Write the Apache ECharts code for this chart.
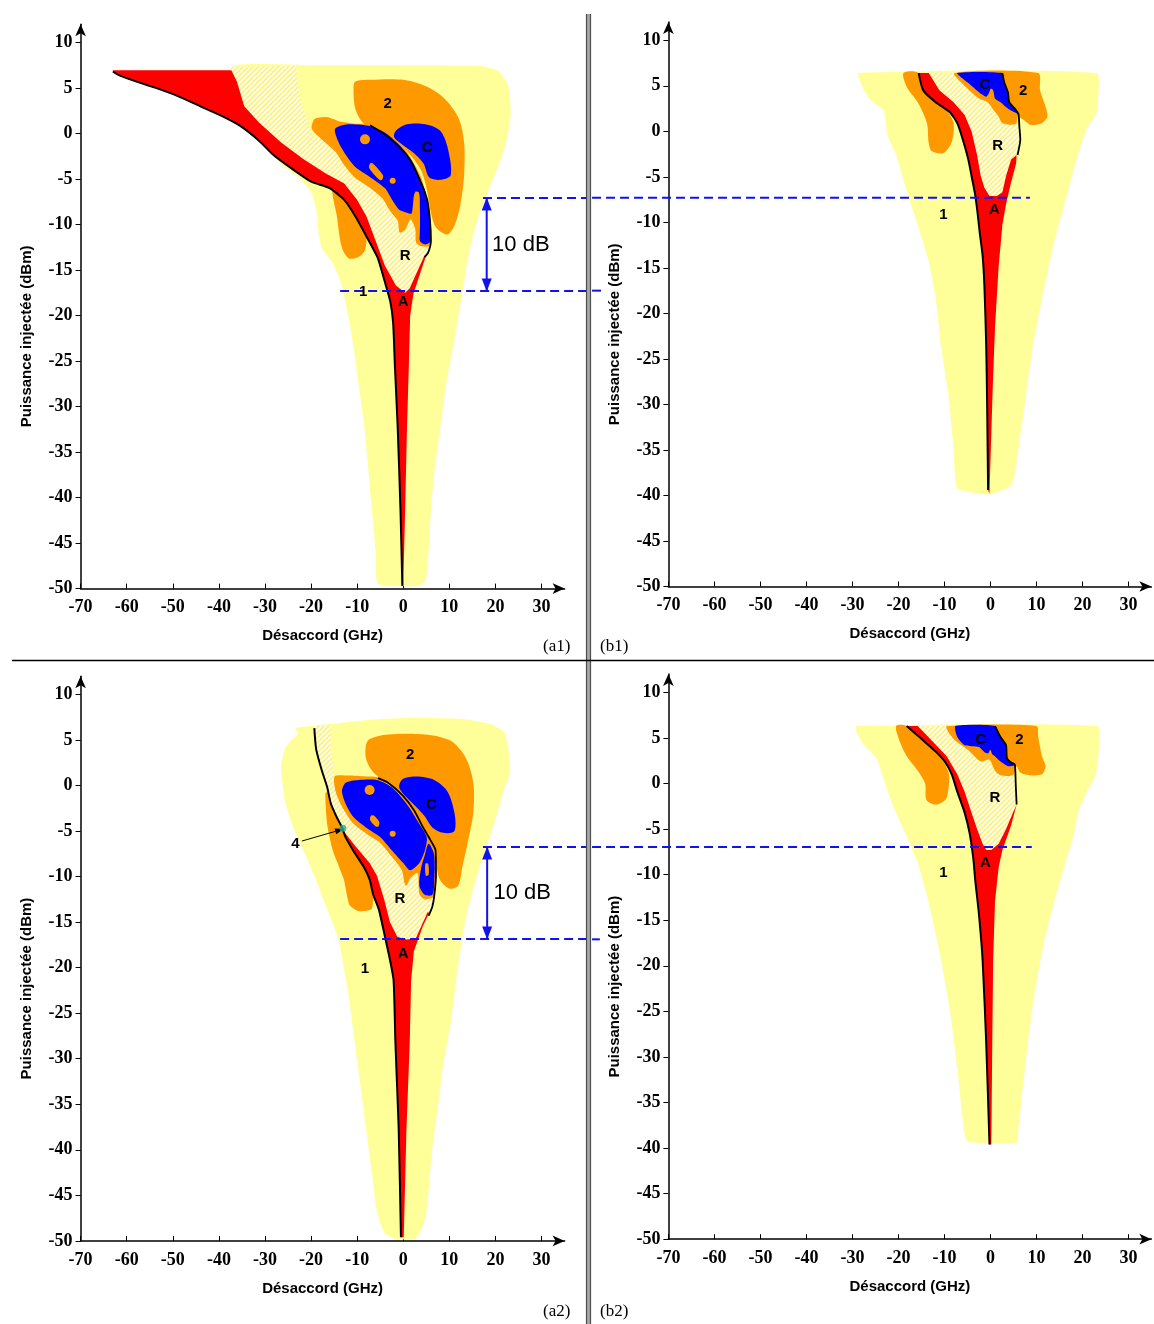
<!DOCTYPE html>
<html><head><meta charset="utf-8">
<script src="https://cdn.jsdelivr.net/npm/echarts@6/dist/echarts.min.js"></script>
<style>html,body{margin:0;padding:0;background:#fff}#c{width:1154px;height:1324px}</style>
</head><body><div id="c"></div>
<script>
// ---------- axes ----------
const xTicks = [-70,-60,-50,-40,-30,-20,-10,0,10,20,30];
const yTicks = [-50,-45,-40,-35,-30,-25,-20,-15,-10,-5,0,5,10];

// ---------- panel a1 ----------
const a1Zone1 = [[-37,7.4],[-20,7.5],[0,7.5],[16.8,7.4],[20.8,6.8],[22.9,5],[23.3,2.1],[22.5,-0.6],[20.8,-3.3],[18.4,-6.4],[16,-9.6],[14.4,-12.7],[13.2,-16.3],[12,-19.9],[10.8,-23.5],[9.2,-27.9],[8,-32.4],[6.8,-36.9],[6,-41.4],[5.5,-45.9],[4.8,-49.2],[3.2,-49.7],[-2.4,-49.7],[-5.6,-49.4],[-6,-45.9],[-6.8,-41.4],[-7.6,-36.9],[-8.4,-32.4],[-9.6,-27.9],[-10.8,-23.5],[-12,-19.9],[-13.6,-16.3],[-15.6,-14],[-17.6,-12.7],[-18.4,-10.9],[-18.8,-8.7],[-20,-6.4],[-23.3,-4.6],[-26.5,-3.4],[-27.6,-2.5],[-30,-1],[-34,1.5],[-36.5,4.5]];
const a1Hatch = [[-37.3,7.3],[-23.3,7.4],[-22.5,4.3],[-20.8,1.2],[-19.6,-0.3],[-15,-0.5],[-8,0],[-1,-1.5],[3,-4.5],[5.6,-8.7],[6.1,-11.8],[5.4,-13.1],[4.4,-14.5],[2,-17.4],[0.4,-17.8],[-2.8,-18.5],[-4,-16.3],[-5.6,-13.6],[-8,-11.3],[-10.4,-9.1],[-12.8,-7.3],[-16,-6],[-20,-5.3],[-24.1,-3.9],[-28.1,-2.4],[-31.3,-0.8],[-35.3,0.8],[-37.5,2]];
const a1Zone2 = [[-10.4,5.7],[-7.2,5.9],[0,5.9],[4.8,5.2],[8.8,3.9],[12,1.7],[13.2,-1],[13.2,-4.6],[12.4,-7.8],[11.2,-10],[9.6,-11.1],[7.2,-10.4],[6,-8.7],[5.2,-6.4],[4,-4.2],[1.6,-2.4],[-1.2,-1],[-5.6,0.3],[-8.8,1.2],[-10.4,2.7],[-10.8,4.8]];
const a1Zone2Left = [[-19.9,0.7],[-19.2,1.6],[-16.6,1.8],[-13.7,1.3],[-11,1.1],[-6,0.9],[0,-1.5],[4,-5],[5.8,-9],[6.1,-11.8],[5.5,-12.4],[4,-12.4],[2.8,-12],[2.6,-10.5],[1.6,-9.4],[1,-10],[0.2,-10.7],[-0.8,-10.9],[-1.2,-9.6],[-3,-8.4],[-4.6,-7.1],[-7.4,-5.9],[-10.6,-4.8],[-12.8,-3.5],[-14.6,-2.1],[-16.5,-1.2],[-19.5,0.2]];
const a1Zone2Lobe = [[-15.4,-5.8],[-14.4,-9.1],[-13.4,-12.4],[-11.9,-13.7],[-9.8,-13.6],[-8.3,-12.8],[-8,-11],[-9,-9.5],[-11,-7.5],[-13,-6]];
const a1ZoneC = [[-14.8,0.5],[-12,1],[-7.2,0.8],[-4,0.1],[-0.8,-1.3],[1.6,-2.8],[3.2,-4.6],[4.8,-6.4],[5.6,-8.7],[6,-11.8],[4.8,-12.2],[3.6,-11.8],[3.6,-8.7],[2.8,-7],[2.2,-7.5],[1.8,-8.8],[0.8,-8.7],[-0.8,-8.4],[-2.4,-7.3],[-4,-6],[-7.2,-4.8],[-10.4,-3.7],[-12.4,-2.4],[-14,-1]];
const a1ZoneC2 = [[-2,-0.4],[-1.6,0.3],[0.8,1],[4.8,1],[8,0.3],[9.6,-1.5],[10.3,-4.6],[8,-5.1],[5.6,-4.8],[4.4,-3.3],[2.4,-2.2],[-0.8,-1]];
const a1Finger = [[2.6,-6.4],[3.4,-6.5],[3.6,-8],[3.5,-11.4],[2.9,-11.5],[2.7,-9],[2.2,-7.4]];
const a1Streak = [[-7.2,-3.3],[-6.6,-3.3],[-4.4,-4.6],[-4.6,-5.1],[-5.2,-5.1],[-7.4,-3.8]];
const a1Spots = [[-8.3,-0.65,5],[-2.3,-5.2,3]];
const a1Curve1 = [[-63,6.8],[-61.7,6.4],[-58.5,5.8],[-53.7,5],[-48.9,4.1],[-44.1,3],[-39.3,1.9],[-35.3,0.8],[-31.3,-0.8],[-28.1,-2.4],[-24.1,-3.9],[-20,-5.3],[-16,-6],[-12.8,-7.3],[-10.4,-9.1],[-8,-11.3],[-5.6,-13.6],[-4,-16.3],[-2.8,-18.5],[-2.2,-20.8],[-1.8,-25.7],[-1.2,-32.4],[-0.6,-41.4],[-0.2,-49.7]];
const a1ZoneAEdge = [[0,-49.7],[0.4,-41.4],[0.8,-32.4],[1.2,-25.7],[1.5,-20],[2.2,-17.6],[4.9,-13.5],[4.6,-13.4],[1.4,-17],[0.4,-17.5],[-1.6,-16.7],[-4,-14.5],[-6,-11.8],[-8,-9.1],[-10,-7.3],[-12.8,-5.5],[-16.8,-4.4],[-21.7,-2.8],[-26.5,-1],[-31.3,1.2],[-34.5,3],[-36.1,5.7],[-37.3,6.95],[-63,6.95]];
const a1Curve2 = [[-7.2,0.9],[-4,-0.1],[-0.8,-1.5],[1.6,-3],[3.6,-5.1],[5.2,-7.3],[5.8,-9.6],[6,-11.8],[5.4,-13.1],[4.6,-13.6]];
const a1Labels = [['2',-3.4,3.2],['C',5.2,-1.6],['R',0.4,-13.5],['A',0,-18.5],['1',-8.7,-17.4]];
const a1DashHigh = [[17.3,-7.1],[40.5,-7.1]];
const a1DashLow = [[-13.7,-17.3],[40.5,-17.3]];
const a1Arrow = [[18.1,-7.1],[18.1,-17.3]];
const a1Note = [['10 dB',25.5,-12.3]];

// ---------- panel b1 ----------
const b1Zone1 = [[-28.7,6.4],[23.1,6.4],[23.3,2.7],[22.9,1.8],[21,0.3],[19,-2.6],[16.3,-7.6],[13.9,-12.1],[11.6,-17.4],[9.2,-23.7],[7.7,-29.1],[6.1,-34.9],[5.3,-37.6],[4.4,-39],[-0.2,-39.9],[-7.2,-39.2],[-8,-34.9],[-9.1,-29.1],[-10.7,-23.7],[-11.9,-18.3],[-13.4,-14.3],[-15.8,-10.3],[-18.1,-6.7],[-20.5,-2.6],[-22.4,-0.4],[-23.2,2.3],[-26,3.4],[-27.5,4.5]];
const b1Zone2Lobe = [[-18.9,6.4],[-15.6,6.4],[-14.6,4.5],[-11.9,3.2],[-9.2,2.1],[-8,0.9],[-8.2,-0.8],[-8.8,-1.6],[-10.3,-2.4],[-12.7,-2.2],[-13.4,-1.3],[-13.8,0.9],[-15.8,3.2],[-18.1,4.8]];
const b1Hatch = [[-15.6,6.4],[-7.2,6.4],[-4.8,5.2],[-2.5,4.1],[-0.9,3.6],[0.6,2.3],[2.2,1.2],[5.5,0.9],[6.1,1.9],[6.3,0.5],[6.5,-0.9],[5.9,-2.6],[4,-5],[2,-7.5],[0,-8],[-2.3,-11.2],[-2.9,-8.5],[-4.1,-4.9],[-6,-0.9],[-8.8,2.1],[-11.9,3.2],[-14.6,4.5]];
const b1Zone2 = [[-7.8,6.4],[10.4,6.4],[10.8,4.5],[12,2.7],[12.4,1.6],[11.2,0.9],[8.8,0.7],[7.4,1.2],[6.3,1.6],[6.1,1.9],[5.5,0.8],[2.6,0.9],[1.8,1.6],[0.6,2.4],[-0.6,3.2],[-2.5,3.6],[-5,4.7]];
const b1ZoneC = [[-7.2,6.4],[2.6,6.4],[3,5.4],[3.8,4.3],[4.1,3.2],[5.3,2.5],[6.1,1.9],[4.8,2.2],[3.8,2.5],[2.2,3.2],[1,3.6],[0.6,4.5],[0.1,4.7],[-0.3,4.2],[-0.9,3.8],[-2.5,4.3],[-4.8,5.3]];
const b1Curve1 = [[-15.6,6.4],[-14.6,4.5],[-11.9,3.2],[-8.8,2.1],[-7.2,0.9],[-6,-0.9],[-4.8,-3.1],[-4.1,-4.9],[-3.4,-6.7],[-2.9,-8.5],[-2.3,-11.2],[-1.7,-13.6],[-1.3,-17],[-0.9,-23.7],[-0.7,-30.4],[-0.5,-39.4]];
const b1ZoneAEdge = [[-0.2,-39.8],[0.5,-28.2],[1,-21.5],[1.8,-14.8],[2.6,-10.3],[3.4,-8],[4.4,-5.8],[5.6,-3.5],[5.7,-2.6],[4.5,-3.1],[3.4,-4.9],[2.6,-6.7],[1.4,-7.1],[-0.2,-7.1],[-1.3,-6.2],[-2.1,-4.9],[-2.9,-2.6],[-4.1,0],[-5.6,1.8],[-8,3.2],[-11.1,4.5],[-13.4,6.4]];
const b1Curve2 = [[2.6,6.4],[3,5.4],[3.8,4.3],[4.1,3.2],[5.3,2.5],[6.1,1.9],[6.3,0.5],[6.5,-0.9],[5.9,-2.6]];
const b1Labels = [['C',-1.2,5.1],['2',7.1,4.4],['R',1.6,-1.6],['A',0.9,-8.6],['1',-10.2,-9.2]];
const b1DashHigh = [[-86.6,-7.3],[8.6,-7.3]];
const b1DashLow = [[-86.6,-17.5],[-83.8,-17.5]];

// ---------- panel a2 ----------
const a2Zone1 = [[-23.3,6.3],[-16.9,6.7],[-7.3,7.2],[0.7,7.4],[12.8,7.3],[19.2,6.7],[22,5.8],[22.8,4],[23.2,1.4],[22,-0.2],[20.4,-3],[18.4,-6.2],[16,-9.9],[14,-13.6],[12.6,-17.3],[11.5,-21.4],[10.3,-26],[8.7,-30.6],[7.5,-35.3],[6.3,-39.9],[5.5,-44.5],[4.7,-47.7],[2.7,-49.7],[-1.7,-49.8],[-4.1,-49.1],[-5.7,-46.8],[-6.9,-42.2],[-8.1,-37.6],[-9.3,-32.9],[-10.5,-28.3],[-11.7,-23.7],[-12.9,-20],[-14.1,-16.8],[-16.9,-13.1],[-19.3,-9.9],[-21.7,-7.1],[-24.1,-4.3],[-25.7,-1.6],[-26.5,2.1],[-25.7,4],[-24.1,5.1],[-22.9,5.6]];
const a2Curve1 = [[-19.3,6.3],[-18.9,4],[-17.7,1.7],[-16.5,-0.2],[-15.7,-2],[-14.5,-3.4],[-13.3,-4.6],[-12.5,-5.7],[-10.9,-7.1],[-8.5,-9],[-7.3,-10.3],[-6.5,-12],[-5.3,-13.6],[-4.1,-16.3],[-2.9,-19.1],[-2.1,-21.4],[-1.7,-28.3],[-1,-37.6],[-0.5,-49.6]];
const a2Hatch = [[-19.3,6.5],[-15.7,6.5],[-15.7,4],[-14.9,1],[-12,0],[-6,0],[0,-2],[5,-6],[6.8,-7.1],[7.1,-9.9],[6.7,-12.2],[6.3,-13.3],[5.5,-14.3],[2.7,-16.9],[0.7,-17],[-3,-17.5],[-4.1,-16.3],[-5.3,-13.6],[-6.5,-12],[-7.3,-10.3],[-8.5,-9],[-10.9,-7.1],[-12.5,-5.7],[-13.3,-4.6],[-14.5,-3.4],[-15.7,-2],[-16.5,-0.2],[-17.7,1.7],[-18.9,4]];
const a2Zone2 = [[-8.1,4.4],[-7.3,5.1],[-3.3,5.6],[4.7,5.6],[10.3,4.9],[13.6,3],[15.2,0.3],[15.2,-3],[14,-6.2],[12.8,-9],[11.9,-11],[9.9,-11.3],[7.9,-10.3],[7.1,-8.5],[6.3,-6.6],[4.7,-5.3],[2.3,-3.4],[0,-1.6],[-2.5,-0.2],[-4.9,0.7],[-6.9,1.7],[-8.1,3]];
const a2Zone2Left = [[-14.9,1],[-12,1.1],[-8,1],[-5.5,0.9],[-2,-0.5],[1,-2.2],[4,-4.2],[5.9,-6],[7,-7.1],[7.1,-9.9],[6.7,-12.2],[4.7,-12.5],[3.5,-11.9],[3.1,-9.6],[1.5,-10.2],[0.7,-11],[0.3,-10.8],[-0.3,-9.3],[-2.5,-7.8],[-5,-6.3],[-8,-5.3],[-11,-4.1],[-13.2,-2.4],[-14.6,-0.8]];
const a2Zone2Lobe = [[-16.9,-0.9],[-16.5,-4.3],[-15.3,-7.1],[-12.9,-10.3],[-11.7,-13.1],[-9.7,-13.8],[-6.9,-13.6],[-6.5,-12.4],[-6.5,-12],[-7.3,-10.3],[-8.5,-9],[-10.9,-7.1],[-12.5,-5.7],[-13.3,-4.6],[-14.5,-3.4],[-15.7,-2],[-16.3,-0.6]];
const a2ZoneC = [[-13.3,-0.6],[-12.5,0.3],[-9.7,0.6],[-5.7,0.6],[-2.5,-0.2],[0.7,-2],[3.1,-3.9],[5.1,-5.7],[4.7,-7.1],[3.5,-8.5],[1.5,-9.3],[0,-8.5],[-2.5,-7.1],[-4.9,-5.7],[-8.1,-4.6],[-10.9,-3.4],[-12.5,-2]];
const a2ZoneCFinger = [[5.5,-6.4],[6.7,-7.6],[6.7,-10.8],[6.3,-12],[4.7,-12],[3.5,-11],[3.9,-9],[4.7,-7.6]];
const a2ZoneC2 = [[-0.9,-0.2],[-0.1,0.7],[2.3,1],[6.3,0.7],[9.5,-0.6],[11.1,-3],[11.1,-5],[8.7,-5.2],[6.3,-4.6],[4.7,-3.4],[2.7,-2.3],[0.7,-1.3]];
const a2FingerSpot = [[4.8,-8.6],[5.4,-8.6],[5.5,-9.8],[4.9,-9.9]];
const a2Streak = [[-7,-3.3],[-6.4,-3.3],[-5.2,-4],[-5.4,-4.5],[-6,-4.5],[-7.2,-3.8]];
const a2Spots = [[-7.3,-0.5,5],[-2.3,-5.3,3]];
const a2ZoneAEdge = [[0.1,-49.6],[0.7,-37.6],[1.4,-28.3],[1.7,-21.4],[2.3,-18.2],[4.2,-15.5],[5.6,-14],[5.3,-13.9],[2.7,-16.8],[0.7,-16.9],[-1.3,-16.6],[-2.9,-15],[-4.1,-12.6],[-5.7,-9.9],[-7.3,-8.5],[-10.5,-6.6],[-12.5,-5.3],[-13.1,-4.8]];
const a2Curve2 = [[-5.5,0.8],[-3.3,0.3],[-0.1,-1.1],[2.3,-2.7],[4.3,-4.6],[5.9,-6],[7,-7.1],[7.1,-9.9],[6.7,-12.2],[6.3,-13.3],[5.5,-14.3]];
const a2Labels = [['2',1.5,3.4],['C',6.1,-2.1],['R',-0.7,-12.4],['A',0,-18.5],['1',-8.3,-20.1],['4',-23.4,-6.4]];
const a2Point4 = [[-13.1,-4.7]];
const a2Pointer4 = [[-22,-6.1],[-13.8,-4.9]];
const a2DashHigh = [[17.3,-6.75],[40.5,-6.75]];
const a2DashLow = [[-13.7,-16.85],[40.5,-16.85]];
const a2Arrow = [[18.2,-6.75],[18.2,-16.85]];
const a2Note = [['10 dB',25.8,-11.8]];

// ---------- panel b2 ----------
const b2Zone1 = [[-29.1,6.3],[23.2,6.3],[23.5,3.3],[22.9,1],[21,-0.9],[19,-3.2],[18.2,-5.5],[16.3,-8.7],[13.9,-12.9],[11.6,-17.5],[9.6,-23],[8.1,-28.6],[6.9,-34.1],[6.1,-37.8],[5.7,-39.4],[-0.9,-39.5],[-5.2,-39.2],[-6,-36.9],[-7.2,-31.3],[-8.8,-24.9],[-11.1,-18.4],[-13.5,-12.9],[-15.8,-8.7],[-18.9,-5],[-21.3,-2.3],[-23.2,0.5],[-24.8,2.8],[-27.5,4.2],[-29.1,5.6]];
const b2Zone2Lobe = [[-20.5,6.3],[-18.2,6.3],[-15,4.9],[-11.9,3.5],[-10.2,2.4],[-9,1],[-9.2,-0.9],[-9.8,-1.8],[-11.9,-2.3],[-13.9,-1.8],[-14.2,0],[-15.8,1.4],[-18.2,3],[-19.7,4.6]];
const b2Hatch = [[-15.8,6.3],[-9.5,6.3],[-7.6,4.7],[-4.9,3.7],[-2.1,2.4],[-0.2,2.6],[1,1.4],[2.2,0.9],[4.9,0.9],[5.3,2.1],[5.5,0],[5.7,-2.3],[3,-6],[0,-7.5],[-3.7,-8.3],[-4.5,-5.5],[-7.2,-0.9],[-9.9,2.4],[-15,4.9]];
const b2Zone2 = [[-9.5,6.3],[10,6.3],[10.4,5.1],[11.2,3],[12,1.9],[11.2,1],[8.5,0.9],[6.5,1.2],[5.7,1.9],[4.9,0.9],[2.2,0.9],[1,1.4],[-0.2,2.6],[-2.1,2.4],[-4.9,3.7],[-7.6,4.7],[-9.1,5.6]];
const b2ZoneC = [[-7.6,6.3],[1,6.3],[2.2,5.1],[3.4,4.2],[3.6,2.8],[4.5,2.3],[5.3,2],[3.8,1.9],[2.2,2.4],[1,3],[0.4,3.2],[0,3.7],[-0.5,3.3],[-1.2,3.4],[-2.5,4],[-5.6,4.2],[-7.2,5.1]];
const b2Curve1 = [[-18.2,6.3],[-15,4.9],[-11.9,3.5],[-9.9,2.4],[-8.4,1],[-7.2,-0.9],[-5.6,-3.2],[-4.5,-5.5],[-3.7,-8.3],[-3.3,-10.6],[-2.5,-14.3],[-1.7,-19.3],[-0.9,-28.6],[-0.2,-39.6]];
const b2ZoneAEdge = [[0.2,-39.6],[0.4,-28.6],[0.6,-19.3],[1,-12.9],[1.8,-9.2],[2.6,-7.3],[4.5,-4.6],[5.7,-2.3],[4.9,-3.2],[3.4,-5],[1.8,-6.6],[0.2,-7.3],[-0.9,-7.3],[-1.7,-6.6],[-2.9,-5],[-4.1,-3.2],[-5.6,-0.9],[-7.2,1],[-9.5,3],[-12.7,4.7],[-15.8,6.3]];
const b2Curve2 = [[1,6.3],[2.2,5.1],[3.4,4.2],[3.6,2.8],[4.5,2.3],[5.3,2.1],[5.5,0],[5.7,-2.3]];
const b2Labels = [['C',-2.1,4.8],['2',6.3,4.8],['R',1,-1.6],['A',-1.1,-8.7],['1',-10.2,-9.8]];
const b2DashHigh = [[-86.6,-6.97],[9,-6.97]];
const b2DashLow = [[-86.6,-17.1],[-84.9,-17.1]];

// ---------- styles ----------
const YELLOW = '#ffff99', ORANGE = '#ff9900', BLUE = '#0000ff', RED = '#ff0000', DASH = '#1212ee';

function makeHatch() {
  const s = 5, c = document.createElement('canvas');
  c.width = s; c.height = s;
  const g = c.getContext('2d');
  g.fillStyle = '#ffffff'; g.fillRect(0, 0, s, s);
  g.strokeStyle = '#fff27a'; g.lineWidth = 1.9;
  g.beginPath();
  g.moveTo(0, s); g.lineTo(s, 0);
  g.moveTo(-s / 2, s / 2); g.lineTo(s / 2, -s / 2);
  g.moveTo(s / 2, s * 1.5); g.lineTo(s * 1.5, s / 2);
  g.stroke();
  return c;
}
const HATCH = { image: makeHatch(), repeat: 'repeat' };

function poly(gi, pts, fill, smooth) {
  return {
    type: 'custom', xAxisIndex: gi, yAxisIndex: gi, silent: true, animation: false,
    data: pts,
    renderItem: function (params, api) {
      if (params.dataIndex !== 0) return null;
      return { type: 'polygon', shape: { points: pts.map(v => api.coord(v)), smooth: smooth || 0 }, style: { fill: fill } };
    }
  };
}
function spots(gi, pts) {
  return {
    type: 'custom', xAxisIndex: gi, yAxisIndex: gi, silent: true, animation: false,
    data: pts,
    renderItem: function (params, api) {
      const p = api.coord([api.value(0), api.value(1)]);
      return { type: 'circle', shape: { cx: p[0], cy: p[1], r: api.value(2) }, style: { fill: ORANGE } };
    }
  };
}
function curve(gi, pts, width) {
  return { type: 'line', xAxisIndex: gi, yAxisIndex: gi, data: pts, symbol: 'none', silent: true, animation: false, clip: false,
    smooth: 0.2, lineStyle: { color: '#000', width: width } };
}
function dash(gi, pts) {
  return {
    type: 'custom', xAxisIndex: gi, yAxisIndex: gi, silent: true, animation: false, z: 6, clip: false,
    data: pts,
    renderItem: function (params, api) {
      if (params.dataIndex !== 0) return null;
      return { type: 'polyline', shape: { points: pts.map(v => api.coord(v)) }, style: { stroke: DASH, lineWidth: 2, lineDash: [9, 5], fill: null } };
    }
  };
}
function texts(gi, items, font) {
  return {
    type: 'custom', xAxisIndex: gi, yAxisIndex: gi, silent: true, animation: false, z: 8,
    data: items.map(d => [d[1], d[2]]),
    renderItem: function (params, api) {
      const p = api.coord([api.value(0), api.value(1)]);
      return { type: 'text', x: p[0], y: p[1], style: { text: items[params.dataIndex][0], font: font, fill: '#000', align: 'center', verticalAlign: 'middle' } };
    }
  };
}
function dbArrow(gi, pts) {
  return { type: 'line', xAxisIndex: gi, yAxisIndex: gi, silent: true, animation: false, clip: false, z: 7,
    lineStyle: { color: DASH, width: 2 }, itemStyle: { color: DASH },
    data: [
      { value: pts[0], symbol: 'triangle', symbolSize: [10, 13], symbolOffset: [0, 6] },
      { value: pts[1], symbol: 'triangle', symbolSize: [10, 13], symbolRotate: 180, symbolOffset: [0, -6] }
    ] };
}
const LABEL_FONT = 'bold 15px "Liberation Sans", Arial, sans-serif';
const NOTE_FONT = '22px "Liberation Sans", Arial, sans-serif';

const grids = [
  { left: 80.6, top: 24.2, width: 484, height: 564.4 },
  { left: 668.4, top: 22.1, width: 483, height: 564.4 },
  { left: 80.6, top: 676.2, width: 484, height: 564.7 },
  { left: 668.4, top: 674.1, width: 483, height: 565.1 }
];
const tickFont = { color: '#000', fontFamily: '"Liberation Serif", "Times New Roman", serif', fontWeight: 'bold', fontSize: 18 };
const nameFont = { color: '#000', fontFamily: '"Liberation Sans", Arial, sans-serif', fontWeight: 'bold', fontSize: 15 };
const xAxes = grids.map((g, i) => ({
  gridIndex: i, type: 'value', min: -70, max: 35,
  name: 'Désaccord (GHz)', nameLocation: 'middle', nameGap: 40, nameTextStyle: nameFont,
  axisLine: { show: true, onZero: false, symbol: ['none', 'arrow'], symbolSize: [8, 12], lineStyle: { color: '#000', width: 1.5 } },
  axisTick: { show: true, inside: true, length: 5, customValues: xTicks, lineStyle: { color: '#000', width: 1 } },
  axisLabel: Object.assign({ customValues: xTicks, margin: 10 }, tickFont),
  splitLine: { show: false }
}));
const yAxes = grids.map((g, i) => ({
  gridIndex: i, type: 'value', min: -50, max: 12, interval: 5,
  name: 'Puissance injectée (dBm)', nameLocation: 'middle', nameGap: 46, nameRotate: 90,
  nameTextStyle: Object.assign({ padding: [0, 60, 0, 0] }, nameFont),
  axisLine: { show: true, onZero: false, symbol: ['none', 'arrow'], symbolSize: [8, 12], lineStyle: { color: '#000', width: 1.5 } },
  axisTick: { show: true, inside: false, length: 5, customValues: yTicks, lineStyle: { color: '#000', width: 1 } },
  axisLabel: Object.assign({ customValues: yTicks, margin: 8 }, tickFont),
  splitLine: { show: false }
}));

const series = [
  // a1
  poly(0, a1Zone1, YELLOW, 0.2), poly(0, a1Hatch, HATCH, 0),
  poly(0, a1Zone2, ORANGE, 0.3), poly(0, a1Zone2Left, ORANGE, 0.25), poly(0, a1Zone2Lobe, ORANGE, 0.3),
  poly(0, a1ZoneC, BLUE, 0.25), poly(0, a1ZoneC2, BLUE, 0.3), poly(0, a1Finger, ORANGE, 0.3), poly(0, a1Streak, ORANGE, 0.3), spots(0, a1Spots),
  poly(0, a1Curve1.concat(a1ZoneAEdge), RED, 0), curve(0, a1Curve1, 2), curve(0, a1Curve2, 1.8),
  texts(0, a1Labels, LABEL_FONT), texts(0, a1Note, NOTE_FONT),
  dash(0, a1DashHigh), dash(0, a1DashLow), dbArrow(0, a1Arrow),
  // b1
  poly(1, b1Zone1, YELLOW, 0.15), poly(1, b1Zone2Lobe, ORANGE, 0.3), poly(1, b1Hatch, HATCH, 0),
  poly(1, b1Zone2, ORANGE, 0.25), poly(1, b1ZoneC, BLUE, 0.2),
  poly(1, b1Curve1.concat(b1ZoneAEdge), RED, 0), curve(1, b1Curve1, 2), curve(1, b1Curve2, 1.8),
  texts(1, b1Labels, LABEL_FONT), dash(1, b1DashHigh), dash(1, b1DashLow),
  // a2
  poly(2, a2Zone1, YELLOW, 0.2), poly(2, a2Hatch, HATCH, 0),
  poly(2, a2Zone2, ORANGE, 0.3), poly(2, a2Zone2Left, ORANGE, 0.25), poly(2, a2Zone2Lobe, ORANGE, 0.2),
  poly(2, a2ZoneC, BLUE, 0.25), poly(2, a2ZoneCFinger, BLUE, 0.3), poly(2, a2ZoneC2, BLUE, 0.3),
  poly(2, a2FingerSpot, ORANGE, 0.3), poly(2, a2Streak, ORANGE, 0.3), spots(2, a2Spots),
  poly(2, a2Curve1.slice(6).concat(a2ZoneAEdge), RED, 0), curve(2, a2Curve1, 2), curve(2, a2Curve2, 1.8),
  { type: 'line', xAxisIndex: 2, yAxisIndex: 2, silent: true, animation: false, z: 7, lineStyle: { color: '#000', width: 1 }, itemStyle: { color: '#000' },
    data: [{ value: a2Pointer4[0], symbol: 'none' }, { value: a2Pointer4[1], symbol: 'triangle', symbolSize: [6, 9], symbolRotate: -73 }] },
  { type: 'scatter', xAxisIndex: 2, yAxisIndex: 2, silent: true, animation: false, z: 8, data: a2Point4, symbolSize: 7, itemStyle: { color: '#1fae8c' } },
  texts(2, a2Labels, LABEL_FONT), texts(2, a2Note, NOTE_FONT),
  dash(2, a2DashHigh), dash(2, a2DashLow), dbArrow(2, a2Arrow),
  // b2
  poly(3, b2Zone1, YELLOW, 0.15), poly(3, b2Zone2Lobe, ORANGE, 0.3), poly(3, b2Hatch, HATCH, 0),
  poly(3, b2Zone2, ORANGE, 0.25), poly(3, b2ZoneC, BLUE, 0.2),
  poly(3, b2Curve1.concat(b2ZoneAEdge), RED, 0), curve(3, b2Curve1, 2), curve(3, b2Curve2, 1.8),
  texts(3, b2Labels, LABEL_FONT), dash(3, b2DashHigh), dash(3, b2DashLow)
];

const panelFont = '17px "Liberation Serif", "Times New Roman", serif';
const chart = echarts.init(document.getElementById('c'), null, { renderer: 'canvas' });
chart.setOption({
  animation: false,
  backgroundColor: '#ffffff',
  grid: grids,
  xAxis: xAxes,
  yAxis: yAxes,
  series: series,
  graphic: [
    { type: 'rect', z: 100, shape: { x: 586, y: 14, width: 5, height: 1310 }, style: { fill: '#a8a8a8' } },
    { type: 'line', z: 101, shape: { x1: 586.5, y1: 14, x2: 586.5, y2: 1324 }, style: { stroke: '#4d4d4d', lineWidth: 1.2 } },
    { type: 'line', z: 101, shape: { x1: 590.5, y1: 14, x2: 590.5, y2: 1324 }, style: { stroke: '#4d4d4d', lineWidth: 1.2 } },
    { type: 'line', z: 102, shape: { x1: 12, y1: 660.5, x2: 1154, y2: 660.5 }, style: { stroke: '#000', lineWidth: 1.5 } },
    { type: 'text', z: 102, x: 543, y: 638, style: { text: '(a1)', font: panelFont, fill: '#000' } },
    { type: 'text', z: 102, x: 600, y: 638, style: { text: '(b1)', font: panelFont, fill: '#000' } },
    { type: 'text', z: 102, x: 543, y: 1303, style: { text: '(a2)', font: panelFont, fill: '#000' } },
    { type: 'text', z: 102, x: 600, y: 1303, style: { text: '(b2)', font: panelFont, fill: '#000' } }
  ]
});
</script></body></html>
